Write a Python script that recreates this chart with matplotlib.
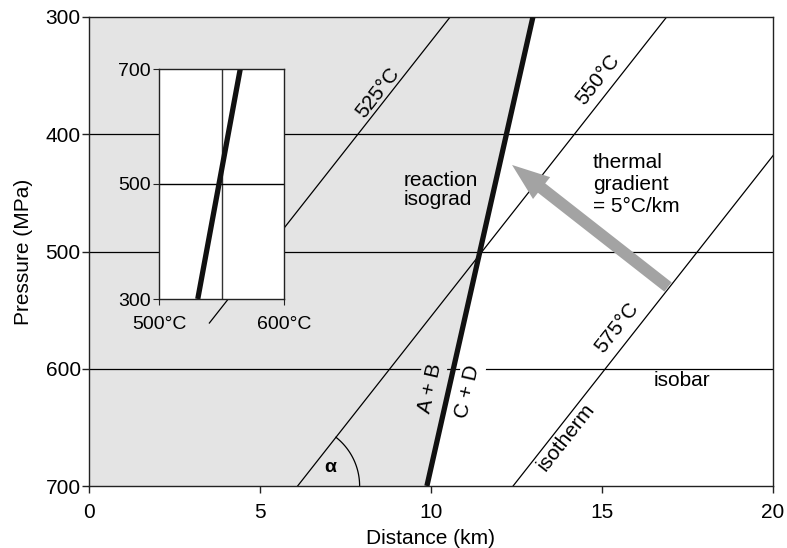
import numpy as np
import matplotlib
matplotlib.use("Agg")
import matplotlib.pyplot as plt
from matplotlib.patches import FancyArrowPatch, Polygon

plt.rcParams['font.family'] = ['Liberation Sans', 'DejaVu Sans']

# ---------------- data ----------------
x_ticks = [0, 5, 10, 15, 20]
p_ticks = [300, 400, 500, 600, 700]
isobars = [400, 500, 600]                       # MPa
isotherm_labels = ['525°C', '550°C', '575°C']
isotherm_x_at_300 = [10.56, 16.89, 23.19]        # km at P = 300 MPa
isotherm_x_at_700 = [-0.23, 6.10, 12.40]         # km at P = 700 MPa
isotherm_p_end = [561, 700, 700]                 # lower end of drawn isotherm (MPa)
reaction_x = [12.98, 9.88]                       # km at P = 300, 700
reaction_p = [300, 700]
gradient_tail = (16.93, 530.3)
gradient_head = (12.37, 426.2)

inset_T_ticks = [500, 600]
inset_T_labels = ['500°C', '600°C']
inset_P_ticks = [300, 500, 700]
inset_reaction_T = [531, 565]
inset_reaction_P = [300, 700]

# ---------------- figure ----------------
W, H = 787, 548
fig = plt.figure(figsize=(W / 100, H / 100), dpi=100)
ax = fig.add_axes([89 / W, 1 - 486 / H, (773 - 89) / W, (486 - 17) / H])
ax.set_xlim(0, 20)
ax.set_ylim(700, 300)

gray = '#e4e4e4'
# shaded field left of the reaction isograd
ax.add_patch(Polygon([(0, 300), (reaction_x[0], 300), (reaction_x[1], 700), (0, 700)],
                     closed=True, facecolor=gray, edgecolor='none', zorder=0))

# isobars
for p in isobars:
    ax.plot([0, 20], [p, p], color='black', lw=0.9, zorder=1)

# isotherms
def iso_x(i, p):
    return isotherm_x_at_700[i] + (700 - p) / 400 * (isotherm_x_at_300[i] - isotherm_x_at_700[i])

for i in range(len(isotherm_labels)):
    ps = np.array([300, isotherm_p_end[i]], dtype=float)
    ax.plot([iso_x(i, p) for p in ps], ps, color='black', lw=0.9, zorder=1, clip_on=True)

# reaction line
ax.plot(reaction_x, reaction_p, color='#111111', lw=3.8, zorder=3, solid_capstyle='butt')

# thermal gradient arrow
arr = FancyArrowPatch(gradient_tail, gradient_head,
                      arrowstyle='simple,head_length=27,head_width=20,tail_width=8.5',
                      mutation_scale=1, color='#a3a3a3', lw=0, shrinkA=0, shrinkB=0, zorder=4)
ax.add_patch(arr)

fig.canvas.draw()

def screen_angle(x0, y0, x1, y1):
    a = ax.transData.transform((x0, y0))
    b = ax.transData.transform((x1, y1))
    return np.degrees(np.arctan2(b[1] - a[1], b[0] - a[0]))

iso_ang = screen_angle(isotherm_x_at_700[1], 700, isotherm_x_at_300[1], 300)
rx_ang = screen_angle(reaction_x[1], 700, reaction_x[0], 300)

fs = 15
label_pos = [(8.45, 365), (14.88, 353.7), (15.44, 565)]
for (lx, lp), lab in zip(label_pos, isotherm_labels):
    ax.text(lx, lp, lab, rotation=iso_ang, rotation_mode='anchor', ha='center', va='center',
            fontsize=fs, zorder=5)
ax.text(13.95, 658, 'isotherm', rotation=iso_ang, rotation_mode='anchor', ha='center', va='center',
        fontsize=fs, zorder=5)

ax.text(9.97, 616.4, 'A + B', rotation=rx_ang, rotation_mode='anchor', ha='center', va='center',
        fontsize=fs, zorder=5, bbox=dict(boxstyle='square,pad=0.15', fc=gray, ec='none'))
ax.text(11.08, 619.8, 'C + D', rotation=rx_ang, rotation_mode='anchor', ha='center', va='center',
        fontsize=fs, zorder=2, bbox=dict(boxstyle='square,pad=0.15', fc='white', ec='none'))

ax.text(9.21, 447.5, 'reaction\nisograd', ha='left', va='center', fontsize=fs, linespacing=1.05, zorder=5)
ax.text(14.74, 443, 'thermal\ngradient\n= 5°C/km', ha='left', va='center', fontsize=fs,
        linespacing=1.2, zorder=5)
ax.text(16.52, 610.4, 'isobar', ha='left', va='center', fontsize=fs, zorder=5)
ax.text(7.05, 683.8, 'α', ha='center', va='center', fontsize=14, fontweight='bold', zorder=5)

# angle arc at the base of the 550 °C isotherm
cx, cy = ax.transData.transform((isotherm_x_at_700[1], 700))
r = 62
t = np.radians(np.linspace(0, iso_ang, 60))
pts = ax.transData.inverted().transform(np.column_stack([cx + r * np.cos(t), cy + r * np.sin(t)]))
ax.plot(pts[:, 0], pts[:, 1], color='black', lw=0.9, zorder=2)

ax.set_xticks(x_ticks)
ax.set_yticks(p_ticks)
ax.tick_params(direction='out', length=5, width=1, labelsize=15, color='#222222')
ax.tick_params(axis='x', pad=7)
ax.tick_params(axis='y', pad=1)
for s in ax.spines.values():
    s.set_color('#222222')
    s.set_linewidth(1)
ax.set_xlabel('Distance (km)', fontsize=15, labelpad=5)
ax.set_ylabel('Pressure (MPa)', fontsize=15, labelpad=9)

# ---------------- inset ----------------
ai = fig.add_axes([159 / W, 1 - 299 / H, 125 / W, 230 / H], zorder=3)
ai.set_facecolor('white')
ai.set_xlim(500, 600)
ai.set_ylim(300, 700)
ai.axvline(550, color='#333333', lw=1)
ai.axhline(500, color='black', lw=1)
ai.plot(inset_reaction_T, inset_reaction_P, color='#111111', lw=3.8, solid_capstyle='butt')
ai.set_xticks(inset_T_ticks)
ai.set_xticklabels(inset_T_labels)
ai.set_yticks(inset_P_ticks)
ai.tick_params(axis='x', direction='out', length=4, labelsize=14, pad=8, color='#222222')
ai.tick_params(axis='y', direction='out', length=4, labelsize=14, pad=2, color='#222222')
for s in ai.spines.values():
    s.set_color('#222222')
    s.set_linewidth(1)

fig.savefig('out.png', dpi=100)
